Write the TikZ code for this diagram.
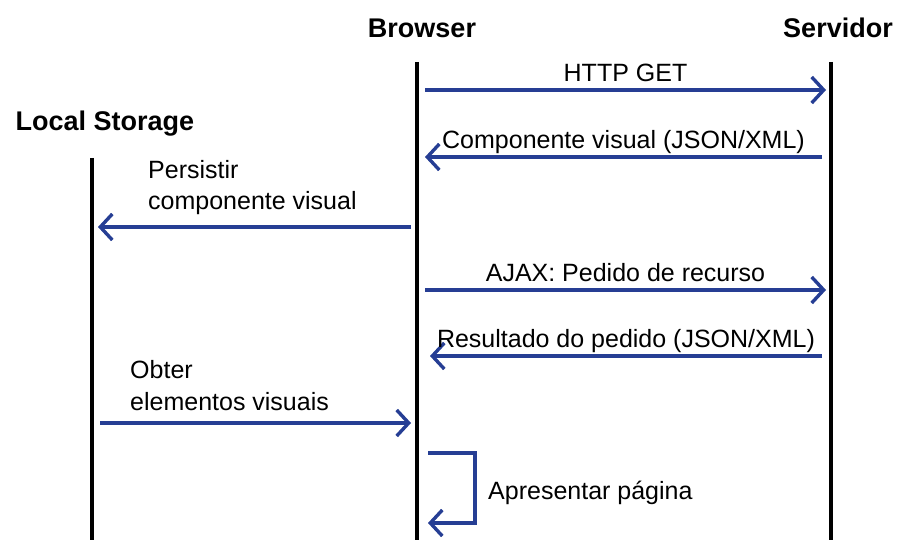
\documentclass[tikz,border=0pt]{standalone}
\usepackage{fontspec}
\setmainfont{Liberation Sans}
\usetikzlibrary{arrows.meta}
\definecolor{msgblue}{RGB}{38,62,148}

\begin{document}
\begin{tikzpicture}[line cap=round, line join=round, x=1pt, y=-1pt,
    lifeline/.style={line width=3.4pt, line cap=butt},
    msg/.style={draw=msgblue, line width=3.4pt, line cap=butt, -{Straight Barb[length=12pt, width=26pt]}},
    actor/.style={font=\bfseries\fontsize{27}{30}\selectfont, inner sep=0pt, anchor=base},
    lbl/.style={font=\fontsize{25}{31.5}\selectfont, inner sep=0pt}]
                \useasboundingbox (0,0) rectangle (898,540);
                % actors
                \node[actor] (browser) at (422,38) {Browser};
                \node[actor] (server) at (838,38) {Servidor};
                \node[actor] (storage) at (105,131) {Local Storage};
                % lifelines
                \coordinate (ls top) at (92,158);
                \coordinate (ls bot) at (92,540);
                \coordinate (br top) at (417,62);
                \coordinate (br bot) at (417,540);
                \coordinate (sv top) at (831,62);
                \coordinate (sv bot) at (831,540);
                \foreach \line in {ls, br, sv}
                    \draw[lifeline] (\line\space top) -- (\line\space bot);
                % messages between browser and server
                \foreach \from/\to/\y/\text in {425/826/90/{HTTP GET}, 822/425/157/{Componente visual (JSON/XML)}, 425/826/290/{AJAX: Pedido de recurso}, 822/430/356/{Resultado do pedido (JSON/XML)}}
                    {
                    \coordinate (m from) at (\from,\y);
                    \coordinate (m to) at (\to,\y);
                    \draw[msg] (m from) -- node[lbl, anchor=base, yshift=8pt] {\text} (m to);
                    }
                % messages to and from local storage
                \coordinate (persist from) at (411,227);
                \coordinate (persist to) at (98,227);
                \draw[msg] (persist from) -- (persist to);
                \node[lbl, anchor=base west, align=left] (persist lbl) at (148,210) {Persistir\\componente visual};
                \coordinate (fetch from) at (100,423);
                \coordinate (fetch to) at (411,423);
                \draw[msg] (fetch from) -- (fetch to);
                \node[lbl, anchor=base west, align=left] (fetch lbl) at (130,410) {Obter\\elementos visuais};
                % self message
                \coordinate (show from) at (428,453);
                \coordinate (show to) at (428,523);
                \draw[msg, line join=miter] (show from) -- ++(47,0) |- (show to);
                \node[lbl, anchor=base west] (show lbl) at (488,499) {Apresentar página};
            \end{tikzpicture}
\end{document}
